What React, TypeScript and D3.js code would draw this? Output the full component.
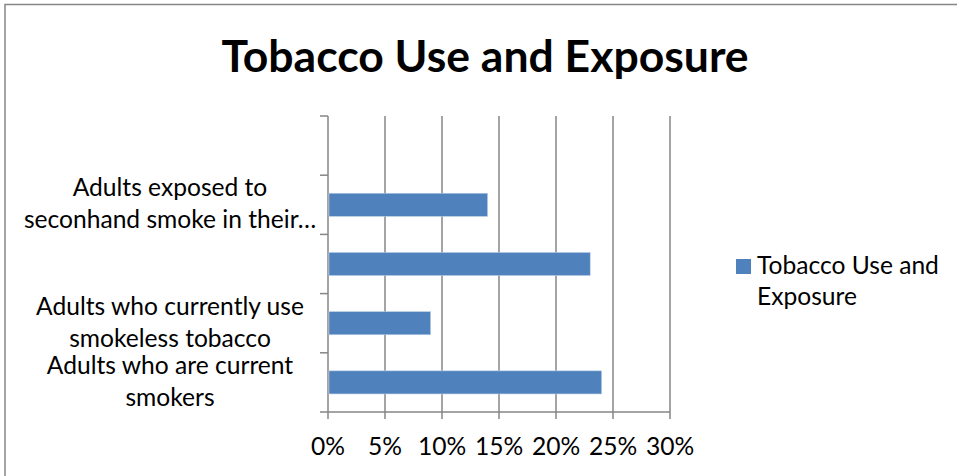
import React from "react";
import * as d3 from "d3";

// Categories listed top to bottom as they appear on the chart
const categories = [
  "",
  "Adults exposed to\nseconhand smoke in their…",
  "",
  "Adults who currently use\nsmokeless tobacco",
  "Adults who are current\nsmokers",
];
const values: (number | null)[] = [null, 0.14, 0.23, 0.09, 0.24];
const tickValues = [0, 0.05, 0.1, 0.15, 0.2, 0.25, 0.3];
const seriesName = "Tobacco Use and Exposure";
const legendLines = ["Tobacco Use and", "Exposure"];
const title = "Tobacco Use and Exposure";

const W = 957;
const H = 476;
const FONT = "Lato, 'Open Sans', sans-serif";
const GRID = "#868686";
const BAR = "#4F81BD";
const FS = 24.6;

export default function App() {
  const x = d3.scaleLinear().domain([0, 0.3]).range([328, 670]);
  const y = d3.scaleBand<string>().domain(categories.map((_, i) => String(i))).range([116, 412]).paddingInner(0.61).paddingOuter(0.305);
  const step = y.step();
  const fmt = d3.format(".0%");
  const [top, bottom] = y.range();

  return (
    <svg
      width={W}
      height={H}
      style={{ position: "absolute", left: 0, top: 0, background: "#fff" }}
      fontFamily={FONT}
    >
      <rect x={0} y={0} width={W} height={H} fill="#fff" />
      {/* chart border */}
      <rect x={5} y={4.5} width={W + 10} height={H + 10} fill="none" stroke={GRID} strokeWidth={1.5} />

      <text x={485} y={72} textAnchor="middle" fontSize={44.5} fontWeight={700} fill="#000">
        {title}
      </text>

      {/* vertical gridlines */}
      {tickValues.map((t) => (
        <line key={"g" + t} x1={x(t)} x2={x(t)} y1={top} y2={bottom + 7} stroke={GRID} strokeWidth={1.5} />
      ))}
      {/* category axis ticks */}
      {categories.map((_, i) => (
        <line key={"ct" + i} x1={320} x2={x(0)} y1={top + i * step} y2={top + i * step} stroke={GRID} strokeWidth={1.5} />
      ))}
      <line x1={320} x2={x(0.3)} y1={bottom} y2={bottom} stroke={GRID} strokeWidth={1.5} />

      {/* bars */}
      {values.map((v, i) =>
        v == null ? null : (
          <rect
            key={"b" + i}
            x={x(0) + 1}
            y={y(String(i))!}
            width={x(v) - x(0) - 1}
            height={y.bandwidth()}
            fill={BAR}
            stroke="#B9CDE5"
            strokeWidth={0.6}
          />
        )
      )}

      {/* x tick labels */}
      {tickValues.map((t) => (
        <text key={"xt" + t} x={x(t)} y={455} textAnchor="middle" fontSize={FS} fill="#000">
          {fmt(t)}
        </text>
      ))}

      {/* category labels */}
      {categories.map((c, i) => {
        if (!c) return null;
        const lines = c.split("\n");
        const cy = y(String(i))! + y.bandwidth() / 2;
        return (
          <text key={"cl" + i} x={170} textAnchor="middle" fontSize={FS} fill="#000">
            {lines.map((l, j) => (
              <tspan key={j} x={170} y={cy + (j - (lines.length - 1) / 2) * 32 + 7.5}>
                {l}
              </tspan>
            ))}
          </text>
        );
      })}

      {/* legend */}
      <rect x={736} y={259} width={15} height={15} fill={BAR} />
      <text fontSize={FS} fill="#000" aria-label={seriesName}>
        {legendLines.map((l, j) => (
          <tspan key={j} x={757} y={274 + j * 31}>
            {l}
          </tspan>
        ))}
      </text>
    </svg>
  );
}
